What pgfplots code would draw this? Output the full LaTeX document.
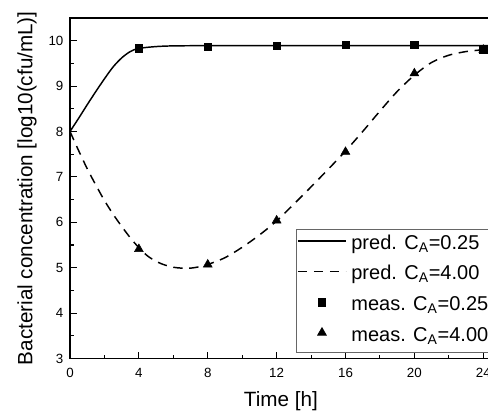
\documentclass[border=0pt]{standalone}
\usepackage{fontspec}
\setmainfont{Liberation Sans}
\usepackage{pgfplots}
\pgfplotsset{compat=1.18}
\pgfplotsset{
  lineleg/.style={legend image code/.code={\draw[##1] (0pt,3pt) -- (36pt,3pt);}},
  markleg/.style={legend image code/.code={\draw[##1] plot coordinates {(18pt,3pt)};}},
}
\begin{document}
\begin{tikzpicture}
\path[use as bounding box] (-52.5pt,-39.375pt) rectangle (313.5pt,268.875pt);
\clip (-52.5pt,-39.375pt) rectangle (313.5pt,268.875pt);
\begin{axis}[
  scale only axis,
  width=316.4pt, height=255.4pt,
  xmin=0, xmax=24.5, ymin=3, ymax=10.5,
  xtick={0,4,...,24}, ytick={3,4,...,10},
  minor x tick num=1, minor y tick num=1,
  tick pos=left, tick align=inside,
  major tick length=5.2pt, minor tick length=3pt,
  axis line style={line width=0.9pt},
  every tick/.style={black, line width=0.8pt},
  /pgf/number format/assume math mode=true,
  tick label style={font=\fontsize{10}{11}\selectfont},
  yticklabel style={anchor=east, inner sep=0pt, xshift=-4.8pt},
  xticklabel style={anchor=north, inner sep=0pt, yshift=-7.4pt},
  every axis y label/.style={at={(axis description cs:-0.0889,0.5)}, anchor=base, rotate=90},
  every axis x label/.style={at={(axis description cs:0.5,-0.1416)}, anchor=base},
  label style={font=\fontsize{15.5}{18}\selectfont},
  xlabel={Time [h]},
  ylabel={Bacterial concentration [log10(cfu/mL)]},
  legend cell align=left,
  legend style={at={(axis cs:13.1,5.85)}, anchor=north west,
    draw=black!60, line width=0.5pt, fill=white,
    inner xsep=1pt, inner ysep=3pt, row sep=5.4pt,
    font=\fontsize{15}{17}\selectfont,
    nodes={inner xsep=0pt, inner ysep=0pt, text height=12pt, text depth=5.5pt},
    /tikz/every odd column/.append style={column sep=3.5pt}},
]
\addplot[black, line width=1.1pt, smooth, no marks, lineleg]
  coordinates {(0,8.0) (0.5,8.29) (1,8.59) (1.5,8.88) (2,9.16) (2.5,9.42) (3,9.62) (3.5,9.76) (4,9.83) (5,9.87) (6,9.885) (8,9.89) (12,9.89) (16,9.89) (20,9.89) (24.5,9.89)};
\addlegendentry{pred. C\textsubscript{A}=0.25}
\addplot[black, line width=1.1pt, smooth, no marks, dash pattern=on 7pt off 5pt, lineleg]
  coordinates {(0,8.0) (0.5,7.58) (1,7.18) (1.5,6.82) (2,6.48) (2.5,6.18) (3,5.91) (3.5,5.66) (4,5.44) (4.5,5.26) (5,5.14) (5.5,5.06) (6,5.01) (6.5,4.99) (7,4.99) (7.5,5.02) (8,5.07) (9,5.22) (10,5.45) (11,5.72) (12,6.03) (13,6.4) (14,6.78) (15,7.17) (16,7.57) (17,8.0) (18,8.45) (19,8.88) (20,9.24) (21,9.52) (22,9.68) (23,9.76) (24,9.8)};
\addlegendentry{pred. C\textsubscript{A}=4.00}
\addplot[black, only marks, mark=square*, mark size=2.8pt, markleg]
  coordinates {(4,9.83) (8,9.87) (12,9.89) (16,9.91) (20,9.905) (24,9.81)};
\addlegendentry{meas. C\textsubscript{A}=0.25}
\addplot[black, only marks, mark=triangle*, mark size=3.8pt, markleg]
  coordinates {(4,5.41) (8,5.07) (12,6.04) (16,7.55) (20,9.28) (24,9.8)};
\addlegendentry{meas. C\textsubscript{A}=4.00}
\end{axis}
\end{tikzpicture}
\end{document}
